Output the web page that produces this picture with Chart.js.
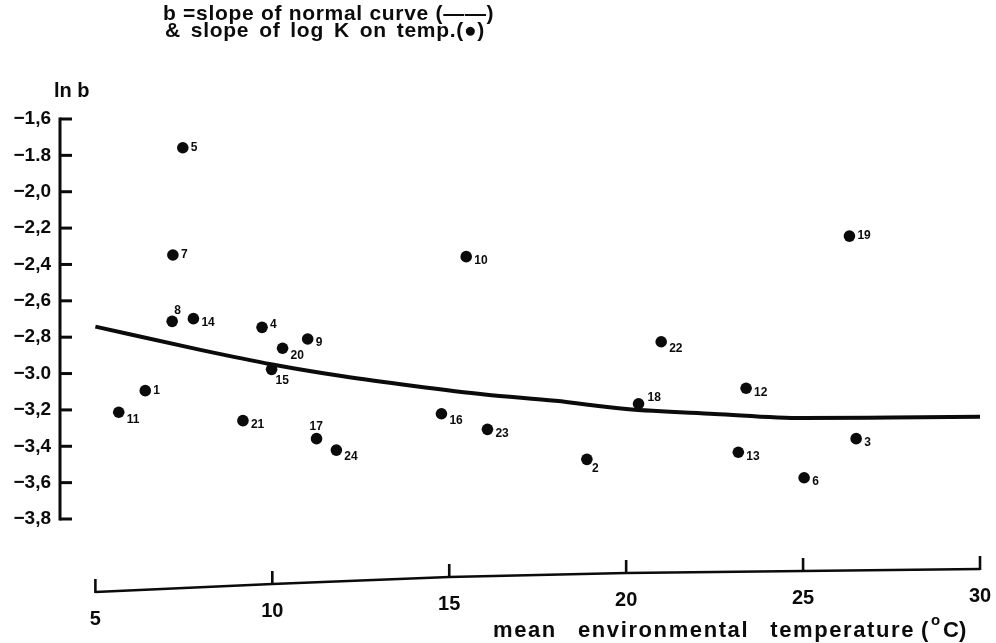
<!DOCTYPE html>
<html>
<head>
<meta charset="utf-8">
<title>ln b against mean environmental temperature</title>
<script src="https://cdn.jsdelivr.net/npm/chart.js@4.4.1/dist/chart.umd.min.js"></script>
<style>
  html, body { margin: 0; padding: 0; background: #fff; }
  #wrap { width: 996px; height: 643px; position: relative; }
</style>
</head>
<body>
<div id="wrap"><canvas id="chart"></canvas></div>
<script>
// Numbered stations: mean environmental temperature (°C) and ln b
const stationIds = [1, 2, 3, 4, 5, 6, 7, 8, 9, 10, 11, 12, 13, 14, 15, 16, 17, 18, 19, 20, 21, 22, 23, 24];
const meanTemp = [6.41, 18.89, 26.50, 9.71, 7.47, 25.03, 7.19, 7.17, 11.00, 15.48, 5.66, 23.39,
                  23.17, 7.77, 9.98, 14.78, 11.25, 20.35, 26.31, 10.29, 9.17, 20.99, 16.08, 11.81];
const lnSlope  = [-3.094, -3.472, -3.358, -2.746, -1.758, -3.573, -2.348, -2.713, -2.810, -2.357, -3.213, -3.081,
                  -3.433, -2.698, -2.977, -3.221, -3.358, -3.166, -2.244, -2.861, -3.259, -2.825, -3.307, -3.421];

// Slope of the normal curve
const curveTemp = [5, 8, 10, 12, 14, 16, 18, 20, 22.5, 25, 27.5, 30];
const curveLnB  = [-2.742, -2.871, -2.950, -3.015, -3.068, -3.115, -3.150, -3.195, -3.222, -3.245, -3.242, -3.238];

// Axis ticks
const yTickValues = [-1.6, -1.8, -2.0, -2.2, -2.4, -2.6, -2.8, -3.0, -3.2, -3.4, -3.6, -3.8];
const yTickLabels = ['\u22121,6', '\u22121.8', '\u22122,0', '\u22122,2', '\u22122,4', '\u22122,6',
                     '\u22122,8', '\u22123.0', '\u22123,2', '\u22123,4', '\u22123,6', '\u22123,8'];
const xTickValues = [5, 10, 15, 20, 25, 30];
const xTickLabels = ['5', '10', '15', '20', '25', '30'];

// ---- styling ----
const INK = '#0b0b0b';
const FONT = '"Liberation Sans", Arial, Helvetica, sans-serif';
// the temperature axis sits below the plot and drifts upward to the right
const AXIS_DROP = [73, 65, 58, 54, 52, 50];
// where each station number sits relative to its dot
const PLACE = {
  E: [8, 0], ENE: [8, -3], ESE: [8, 4], SE: [8, 7], S: [5, 9], SSE: [4, 11],
  NE: [9, -6], NNE: [2, -11], N: [-7, -12]
};
const labelPlace = {
  1: 'E', 2: 'S', 3: 'ESE', 4: 'ENE', 5: 'E', 6: 'ESE', 7: 'E', 8: 'NNE', 9: 'ESE', 10: 'ESE',
  11: 'SE', 12: 'ESE', 13: 'ESE', 14: 'ESE', 15: 'SSE', 16: 'SE', 17: 'N', 18: 'NE', 19: 'E',
  20: 'SE', 21: 'ESE', 22: 'SE', 23: 'ESE', 24: 'SE'
};

function yLabelFor(v) {
  const i = yTickValues.findIndex(t => Math.abs(t - v) < 1e-6);
  return i >= 0 ? yTickLabels[i] : '';
}

// draw text with a little letter spacing, spreading the rest of the width over word gaps
function fitText(ctx, text, x, y, width, letter) {
  const hasLS = 'letterSpacing' in ctx;
  const hasWS = 'wordSpacing' in ctx;
  if (hasLS) ctx.letterSpacing = letter + 'px';
  if (hasWS) ctx.wordSpacing = '0px';
  const w = ctx.measureText(text).width;
  const spaces = (text.match(/ /g) || []).length;
  if (hasWS && spaces) {
    ctx.wordSpacing = Math.max(0, (width - w) / spaces).toFixed(2) + 'px';
  }
  ctx.fillText(text, x, y);
  if (hasLS) ctx.letterSpacing = '0px';
  if (hasWS) ctx.wordSpacing = '0px';
}

const decorations = {
  id: 'decorations',
  afterDatasetsDraw(chart) {
    const { ctx, chartArea: a, scales: { x, y } } = chart;
    ctx.save();
    ctx.strokeStyle = INK;
    ctx.fillStyle = INK;
    ctx.lineCap = 'butt';

    // vertical axis with inward ticks
    ctx.lineWidth = 3;
    const yTop = y.getPixelForValue(yTickValues[0]);
    const yBot = y.getPixelForValue(yTickValues[yTickValues.length - 1]);
    ctx.beginPath();
    ctx.moveTo(a.left, yTop - 1.5);
    ctx.lineTo(a.left, yBot + 1.5);
    ctx.stroke();
    yTickValues.forEach(v => {
      const py = y.getPixelForValue(v);
      ctx.beginPath();
      ctx.moveTo(a.left, py);
      ctx.lineTo(a.left + 12, py);
      ctx.stroke();
    });

    // temperature axis
    const pts = xTickValues.map((v, i) => [x.getPixelForValue(v), a.bottom + AXIS_DROP[i]]);
    ctx.lineWidth = 2.6;
    ctx.beginPath();
    pts.forEach(([px, py], i) => (i ? ctx.lineTo(px, py) : ctx.moveTo(px, py)));
    ctx.stroke();
    pts.forEach(([px, py]) => {
      ctx.beginPath();
      ctx.moveTo(px, py + 1);
      ctx.lineTo(px, py - 13);
      ctx.stroke();
    });
    ctx.font = `bold 20px ${FONT}`;
    ctx.textAlign = 'center';
    ctx.textBaseline = 'middle';
    pts.forEach(([px, py], i) => ctx.fillText(xTickLabels[i], px, py + 27));

    // station numbers
    const meta = chart.getDatasetMeta(1);
    ctx.font = `bold 12px ${FONT}`;
    ctx.textAlign = 'left';
    ctx.textBaseline = 'middle';
    meta.data.forEach((pt, i) => {
      const id = stationIds[i];
      const [dx, dy] = PLACE[labelPlace[id]] || PLACE.E;
      ctx.fillText(String(id), pt.x + dx, pt.y + dy);
    });

    // headings
    ctx.textBaseline = 'alphabetic';
    ctx.font = `bold 21px ${FONT}`;
    fitText(ctx, 'b =slope of normal curve (\u2014\u2014)', 163, 20, 327, 0.7);
    fitText(ctx, '& slope of log K on temp.(\u25CF)', 165, 37, 320, 0.7);
    ctx.font = `bold 20px ${FONT}`;
    ctx.fillText('ln b', 54, 97);

    // temperature axis title with raised degree mark
    ctx.font = `bold 22px ${FONT}`;
    fitText(ctx, 'mean environmental temperature', 493, 637, 422, 1.6);
    ctx.fillText('(', 921, 637);
    ctx.font = `bold 15px ${FONT}`;
    ctx.fillText('o', 931, 625);
    ctx.font = `bold 22px ${FONT}`;
    ctx.fillText('C)', 943, 637);

    ctx.restore();
  }
};

new Chart(document.getElementById('chart'), {
  type: 'scatter',
  data: {
    datasets: [
      {
        type: 'line',
        data: curveTemp.map((t, i) => ({ x: t, y: curveLnB[i] })),
        borderColor: INK,
        borderWidth: 4,
        pointRadius: 0,
        fill: false,
        cubicInterpolationMode: 'monotone'
      },
      {
        type: 'scatter',
        data: meanTemp.map((t, i) => ({ x: t, y: lnSlope[i] })),
        pointRadius: 5.8,
        pointBackgroundColor: INK,
        pointBorderWidth: 0,
        clip: false
      }
    ]
  },
  options: {
    responsive: true,
    maintainAspectRatio: false,
    animation: false,
    layout: { padding: { top: 119, right: 16, bottom: 124, left: 0 } },
    plugins: { legend: { display: false }, tooltip: { enabled: false } },
    scales: {
      x: { type: 'linear', min: 4, max: 30, display: false },
      y: {
        type: 'linear',
        min: -3.8,
        max: -1.6,
        border: { display: false },
        grid: { display: false },
        ticks: {
          stepSize: 0.2,
          padding: 1,
          color: INK,
          font: { family: FONT, size: 19, weight: 'bold' },
          callback: v => yLabelFor(v)
        },
        afterFit(scale) { scale.width = 60; }
      }
    }
  },
  plugins: [decorations]
});
</script>
</body>
</html>
